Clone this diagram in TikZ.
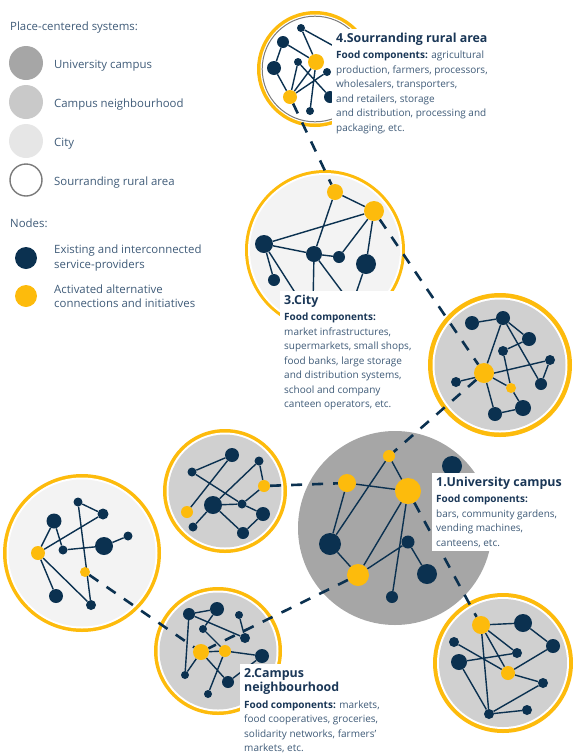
\documentclass[tikz,border=0pt]{standalone}
\usepackage{fontspec}
\setmainfont{Open Sans}
\definecolor{navy}{HTML}{0B3150}
\definecolor{gold}{HTML}{FDBB0C}
\definecolor{campusgray}{HTML}{A6A6A6}
\definecolor{nbhgray}{HTML}{D0D0D0}
\definecolor{citygray}{HTML}{F3F3F3}
\definecolor{legcity}{HTML}{E6E6E6}
\definecolor{legnbh}{HTML}{C9C9C9}
\definecolor{ringgray}{HTML}{7A7A7A}
\definecolor{bodytxt}{HTML}{3F5B78}
\definecolor{titletxt}{HTML}{1A3757}
\pgfdeclarelayer{discs}\pgfdeclarelayer{edges}\pgfdeclarelayer{front}
\pgfsetlayers{discs,edges,main,front}
\tikzset{
 dk/.style={circle,fill=navy,inner sep=0pt,minimum size=#1},
 yl/.style={circle,fill=gold,inner sep=0pt,minimum size=#1},
 ln/.style={draw=navy,line width=1.4pt},
 conn/.style={draw=navy,line width=2.6pt,dash pattern=on 11pt off 10pt},
 leg/.style={anchor=west,inner sep=0pt,text=bodytxt,font=\fontsize{11.4}{15}\selectfont},
 legtwo/.style={anchor=west,inner sep=0pt,text=bodytxt,align=left,font=\fontsize{11.4}{14.5}\selectfont},
 txtbox/.style={fill=white,anchor=north west,align=left,inner xsep=4pt,inner ysep=4pt,text=bodytxt,font=\fontsize{10}{14.5}\selectfont},
}
\newcommand{\ttl}[1]{{\fontsize{12.4}{15}\selectfont\bfseries\color{titletxt}#1}}
\newcommand{\fcomp}{{\bfseries\color{titletxt}Food components:}}
\begin{document}
\begin{tikzpicture}[x=1pt,y=-1pt]
\useasboundingbox (0,0) rectangle (573,753);

% ---------------- legend ----------------
\node[leg] (lgtitle) at (10,28) {Place-centered systems:};
\node[circle,fill=campusgray,minimum size=34pt,inner sep=0pt] (lg1) at (26,63) {};
\node[circle,fill=legnbh,minimum size=34pt,inner sep=0pt] (lg2) at (26,102) {};
\node[circle,fill=legcity,minimum size=34pt,inner sep=0pt] (lg3) at (26,141) {};
\node[circle,draw=ringgray,line width=1.4pt,minimum size=32pt,inner sep=0pt] (lg4) at (26,180) {};
\node[leg] (lgt1) at (54,66) {University campus};
\node[leg] (lgt2) at (54,105) {Campus neighbourhood};
\node[leg] (lgt3) at (54,144) {City};
\node[leg] (lgt4) at (54,183) {Sourranding rural area};
\node[leg] (lgnodes) at (10,223) {Nodes:};
\node[dk=22pt] (lgdk) at (26,258) {};
\node[yl=22pt] (lgyl) at (26,296) {};
\node[legtwo] (lgt5) at (54,258) {Existing and interconnected\\service-providers};
\node[legtwo] (lgt6) at (54,296) {Activated alternative\\connections and initiatives};

% ---------------- discs ----------------
\begin{pgfonlayer}{discs}
% rural (top)
\fill[gold] (315,69) circle (58pt);
\fill[white] (315,69) circle (54.5pt);
\draw[ringgray,line width=1pt] (315,69) circle (52.8pt);
% city
\fill[gold] (325,250) circle (80pt);
\fill[white] (325,250) circle (77pt);
\fill[citygray] (325,250) circle (75pt);
% right neighbourhood
\fill[gold] (500,365) circle (72pt);
\fill[white] (500,365) circle (67.5pt);
\fill[nbhgray] (500,365) circle (65.5pt);
% left neighbourhood
\fill[gold] (225,491) circle (62pt);
\fill[white] (225,491) circle (58.5pt);
\fill[nbhgray] (225,491) circle (56.5pt);
% campus
\fill[campusgray] (395,528) circle (97pt);
% bottom-left city
\fill[gold] (82,553) circle (79pt);
\fill[white] (82,553) circle (75.5pt);
\fill[citygray] (82,553) circle (73.5pt);
% bottom neighbourhood
\fill[gold] (218,651) circle (64pt);
\fill[white] (218,651) circle (60.5pt);
\fill[nbhgray] (218,651) circle (58.5pt);
% bottom right neighbourhood
\fill[gold] (503,663) circle (70pt);
\fill[white] (503,663) circle (66pt);
\fill[nbhgray] (503,663) circle (64pt);
\end{pgfonlayer}

% ---------------- rural nodes ----------------
\node[dk=8pt] (s1) at (301,28) {};
\node[dk=12pt] (s2) at (283,42) {};
\node[dk=14pt] (s3) at (274,68) {};
\node[dk=8pt] (s4) at (298,62) {};
\node[yl=16pt] (s5) at (316,62) {};
\node[dk=8pt] (s6) at (327,72) {};
\node[yl=14pt] (s7) at (290,97) {};
\node[dk=12pt] (s8) at (330,97) {};
\node[dk=8pt] (s9) at (310,111) {};
\coordinate (sh1) at (350,55);

% ---------------- city nodes ----------------
\node[yl=16pt] (c1) at (335,192) {};
\node[yl=20pt] (c2) at (374,211) {};
\node[dk=18pt] (c3) at (264,244) {};
\node[dk=16pt] (c4) at (314,254) {};
\node[dk=12pt] (c5) at (339,257) {};
\node[dk=20pt] (c6) at (366,264) {};
\node[dk=12pt] (c7) at (274,280) {};
\coordinate (ch1) at (352,305);
\coordinate (ch2) at (303,305);
\coordinate (ch3) at (313,305);

% ---------------- right nodes ----------------
\node[dk=14pt] (r1) at (472,323) {};
\node[dk=14pt] (r2) at (503,318) {};
\node[dk=14pt] (r3) at (529,339) {};
\node[dk=10pt] (r4) at (503,351) {};
\node[dk=10pt] (r5) at (550,360) {};
\node[yl=20pt] (r6) at (484,373) {};
\node[dk=10pt] (r7) at (456,382) {};
\node[dk=12pt] (r8) at (541,384) {};
\node[yl=10pt] (r9) at (511,388) {};
\node[dk=14pt] (r10) at (495,414) {};
\node[dk=16pt] (r11) at (523,408) {};

% ---------------- campus nodes ----------------
\node[yl=12pt] (u1) at (389,456) {};
\node[yl=18pt] (u2) at (347,483) {};
\node[yl=26pt] (u3) at (408,491) {};
\node[dk=22pt] (u4) at (330,544) {};
\node[yl=22pt] (u5) at (358,575) {};
\node[dk=13pt] (u6) at (408,542) {};
\node[dk=20pt] (u7) at (427,574) {};
\node[dk=12pt] (u8) at (392,597) {};
\node[dk=20pt] (u9) at (452,466) {};

% ---------------- left neighbourhood nodes ----------------
\node[dk=14pt] (l1) at (232,455) {};
\node[dk=9pt] (l2) at (192,472) {};
\node[dk=9pt] (l3) at (259,461) {};
\node[yl=12pt] (l4) at (264,486) {};
\node[yl=12pt] (l5) at (187,512) {};
\node[dk=18pt] (l6) at (213,505) {};
\node[dk=9pt] (l7) at (242,504) {};
\node[dk=14pt] (l8) at (263,514) {};
\node[dk=9pt] (l9) at (193,527) {};
\node[dk=12pt] (l10) at (243,533) {};

% ---------------- bottom-left nodes ----------------
\node[dk=9pt] (w1) at (78,502) {};
\node[dk=11pt] (w2) at (103,514) {};
\node[dk=15pt] (w3) at (54,521) {};
\node[yl=14pt] (w4) at (38,553) {};
\node[dk=9pt] (w5) at (63,550) {};
\node[dk=18pt] (w6) at (104,546) {};
\node[dk=9pt] (w7) at (128,536) {};
\node[yl=10pt] (w8) at (85,572) {};
\node[dk=14pt] (w9) at (56,596) {};
\node[dk=10pt] (w10) at (91,605) {};

% ---------------- bottom neighbourhood nodes ----------------
\node[dk=12pt] (n1) at (189,614) {};
\node[dk=14pt] (n2) at (217,609) {};
\node[dk=8pt] (n3) at (239,615) {};
\node[dk=8pt] (n4) at (203,629) {};
\node[dk=10pt] (n5) at (245,638) {};
\node[yl=16pt] (n6) at (201,652) {};
\node[yl=12pt] (n7) at (225,651) {};
\node[dk=14pt] (n8) at (262,656) {};
\node[dk=8pt] (n9) at (185,675) {};
\node[dk=12pt] (n10) at (228,682) {};
\node[dk=8pt] (n11) at (208,694) {};

% ---------------- bottom right nodes ----------------
\node[yl=18pt] (b1) at (481,625) {};
\node[dk=18pt] (b2) at (523,623) {};
\node[dk=14pt] (b3) at (553,646) {};
\node[dk=10pt] (b4) at (454,642) {};
\node[dk=10pt] (b5) at (517,653) {};
\node[dk=16pt] (b6) at (459,662) {};
\node[yl=14pt] (b7) at (508,673) {};
\node[dk=10pt] (b8) at (543,683) {};
\node[dk=10pt] (b9) at (489,714) {};
\node[dk=10pt] (b10) at (527,710) {};

% ---------------- edges ----------------
\begin{pgfonlayer}{edges}
\draw[ln] (s1)--(sh1) (s1)--(s5) (s2)--(s3) (s2)--(s5) (s3)--(s7) (s4)--(s7) (s4)--(s8) (s5)--(s9) (s5)--(s7) (s7)--(s6);
\draw[ln] (c1)--(c2) (c1)--(c4) (c3)--(c2) (c3)--(c4) (c3)--(c7) (c3)--(ch2) (c4)--(c5) (c5)--(c2) (c2)--(c6) (c4)--(ch3) (c4)--(ch1) (c6)--(ch1);
\draw[ln] (r1)--(r2) (r2)--(r3) (r2)--(r6) (r2)--(r8) (r3)--(r4) (r4)--(r9) (r7)--(r5) (r5)--(r8) (r6)--(r9) (r6)--(r10) (r9)--(r11) (r10)--(r11);
\draw[ln] (u1)--(u3) (u1)--(u4) (u2)--(u3) (u2)--(u4) (u4)--(u5) (u3)--(u5) (u5)--(u6) (u6)--(u7) (u3)--(u8);
\draw[ln] (l2)--(l1) (l1)--(l5) (l2)--(l7) (l3)--(l4) (l3)--(l6) (l4)--(l7) (l6)--(l7) (l7)--(l8) (l6)--(l10) (l6)--(l9) (l8)--(l10);
\draw[ln] (w1)--(w2) (w1)--(w10) (w2)--(w4) (w3)--(w4) (w3)--(w5) (w5)--(w6) (w6)--(w7) (w4)--(w9) (w4)--(w10);
\draw[ln] (n1)--(n2) (n2)--(n4) (n1)--(n5) (n4)--(n7) (n3)--(n5) (n1)--(n9) (n9)--(n6) (n6)--(n7) (n7)--(n8) (n7)--(n11) (n6)--(n10) (n10)--(n8);
\draw[ln] (b1)--(b2) (b2)--(b3) (b3)--(b7) (b1)--(b5) (b1)--(b7) (b1)--(b9) (b4)--(b7) (b6)--(b5) (b6)--(b9) (b7)--(b8) (b8)--(b9) (b9)--(b10);
% dashed connectors
\draw[conn] (s7)--(c1);
\draw[conn] (c2)--(r6);
\draw[conn] (r6)--(u1);
\draw[conn] (l4)--(u2);
\draw[conn] (u3)--(b1);
\draw[conn] (u5)--(n6);
\draw[conn] (w8)--(n6);
\end{pgfonlayer}

% ---------------- text boxes ----------------
\begin{pgfonlayer}{front}
\node[txtbox] (t4) at (332,29) {\ttl{4.Sourranding rural area}\\[1.5pt]\fcomp{} agricultural\\production, farmers, processors,\\wholesalers, transporters,\\and retailers, storage\\and distribution, processing and\\packaging, etc.};
\node[txtbox] (t3) at (280,291) {\ttl{3.City}\\[1.5pt]\fcomp\\market infrastructures,\\supermarkets, small shops,\\food banks, large storage\\and distribution systems,\\school and company\\canteen operators, etc.};
\node[txtbox] (t1) at (432,473) {\ttl{1.University campus}\\[1.5pt]\fcomp\\bars, community gardens,\\vending machines,\\canteens, etc.};
\node[txtbox] (t2) at (240,664) {\ttl{2.Campus}\\\ttl{neighbourhood}\\[2pt]\fcomp{} markets,\\food cooperatives, groceries,\\solidarity networks, farmers'\\markets, etc.};
\end{pgfonlayer}
\end{tikzpicture}
\end{document}
